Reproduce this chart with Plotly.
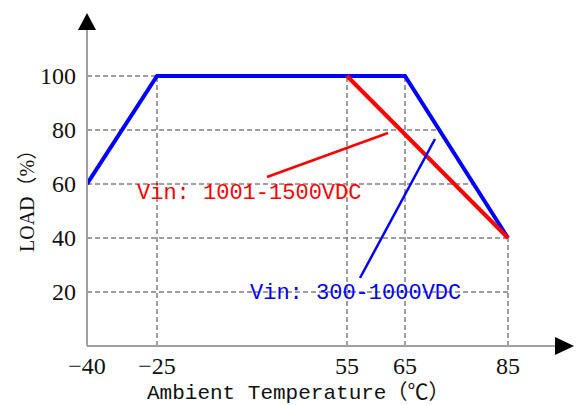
import numpy as np
import plotly.graph_objects as go

# ---- data ----
tick_temps = [-40, -25, 55, 65, 85]            # x tick values (°C)
tick_labels = ["\u221240", "\u221225", "55", "65", "85"]
y_ticks = [20, 40, 60, 80, 100]

blue_temp = [-40, -25, 65, 85]                  # Vin: 300-1000VDC
blue_load = [60, 100, 100, 40]
red_temp = [55, 85]                             # Vin: 1001-1500VDC
red_load = [100, 40]

# schematic (non-linear) x scale of the drawing: temperature -> axis position
scale_pos = [0, 70, 260, 318, 421]


def X(t):
    return np.interp(t, tick_temps, scale_pos)


bx, rx = X(blue_temp), X(red_temp)
YU = 2.7  # px per load unit

# plot area geometry in pixels (for paper-referenced decorations)
L, W, H = 87, 489, 346


def px(x):
    return (x - L) / W


def py(y):
    return (H - y) / H


fig = go.Figure()

grid = dict(color="#808080", width=1.5, dash="5px,3px")
right_seg_x = bx[2:][::-1]
right_seg_y = np.array(blue_load[2:])[::-1]
for v in y_ticks:
    xe = np.interp(v, right_seg_y, right_seg_x) if v >= 40 else X(85)
    fig.add_trace(go.Scatter(x=[0, xe], y=[v, v], mode="lines", line=grid,
                             hoverinfo="skip", showlegend=False))
for t in tick_temps[1:]:
    top = np.interp(X(t), bx, blue_load)
    fig.add_trace(go.Scatter(x=[X(t), X(t)], y=[0, top], mode="lines", line=grid,
                             hoverinfo="skip", showlegend=False))

fig.add_trace(go.Scatter(x=bx, y=blue_load, mode="lines",
                         line=dict(color="#0000ff", width=4), showlegend=False))
fig.add_trace(go.Scatter(x=rx, y=red_load, mode="lines",
                         line=dict(color="#ff0000", width=4), showlegend=False))

P = dict(xref="paper", yref="paper")
shapes = [
    dict(type="line", x0=px(87), y0=py(346), x1=px(87), y1=py(30),
         line=dict(color="#a0a0a0", width=2), **P),
    dict(type="line", x0=px(87), y0=py(346), x1=px(556), y1=py(346),
         line=dict(color="#a0a0a0", width=2), **P),
    dict(type="path",
         path=f"M {px(78)},{py(30)} L {px(96)},{py(30)} L {px(87)},{py(13)} Z",
         fillcolor="black", line=dict(width=0), **P),
    dict(type="path",
         path=f"M {px(555)},{py(337)} L {px(555)},{py(355)} L {px(574)},{py(346)} Z",
         fillcolor="black", line=dict(width=0), **P),
    dict(type="line", x0=px(267), y0=py(177), x1=px(388), y1=py(133),
         line=dict(color="#ff0000", width=2.5), **P),
    dict(type="line", x0=px(360), y0=py(278), x1=px(435), y1=py(139),
         line=dict(color="#0000ff", width=2.5), **P),
]

mono = "Liberation Mono, Noto Sans CJK SC"
annotations = [
    dict(x=px(135), y=py(193), text="Vin: 1001-1500VDC", showarrow=False,
         xanchor="left", yanchor="middle", font=dict(family=mono, size=22, color="#ff0000"), **P),
    dict(x=px(248), y=py(293), text="Vin: 300-1000VDC", showarrow=False,
         xanchor="left", yanchor="middle", font=dict(family=mono, size=22, color="#0000ff"), **P),
    dict(x=px(145), y=py(393), text="Ambient Temperature\uff08\u2103\uff09", showarrow=False,
         xanchor="left", yanchor="middle", font=dict(family=mono, size=21, color="#111111"), **P),
    dict(x=px(27), y=py(196), text="LOAD\uff08%\uff09", showarrow=False, textangle=-90,
         xanchor="center", yanchor="middle",
         font=dict(family="Liberation Serif, Noto Sans CJK SC", size=20, color="#111111"), **P),
]

fig.update_layout(
    width=576, height=405,
    margin=dict(l=87, r=0, t=0, b=59, autoexpand=False),
    paper_bgcolor="white", plot_bgcolor="white",
    shapes=shapes, annotations=annotations,
    xaxis=dict(range=[0, 489], tickvals=scale_pos, ticktext=tick_labels,
               showgrid=False, zeroline=False, showline=False, ticks="",
               ticklabelstandoff=3, automargin=False,
               tickfont=dict(family="Liberation Serif", size=24, color="#111111")),
    yaxis=dict(range=[0, 346 / YU], tickvals=y_ticks,
               showgrid=False, zeroline=False, showline=False, ticks="",
               ticklabelstandoff=10, automargin=False,
               tickfont=dict(family="Liberation Serif", size=24, color="#111111")),
)

fig.write_html("out.html", config={"displayModeBar": False},
               post_script="document.body.style.margin='0';")
